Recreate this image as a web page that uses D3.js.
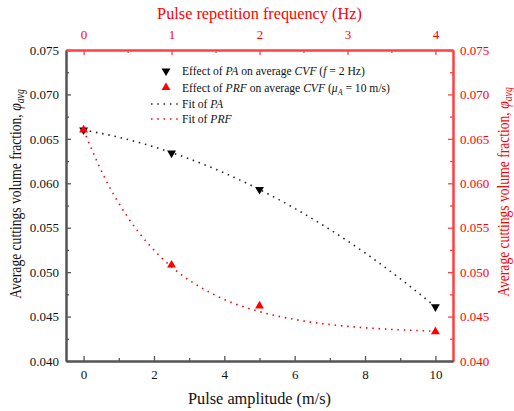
<!DOCTYPE html>
<html><head><meta charset="utf-8">
<script src="https://cdn.jsdelivr.net/npm/d3@7"></script>
<style>body{margin:0;background:#fff}svg{display:block}text{font-family:"Liberation Serif","Times New Roman",serif}</style>
</head><body><svg id="c" width="514" height="411"></svg>
<script>
// ---- data ----
const paValues = [0, 2.5, 5, 10];                 // pulse amplitude (m/s)
const paCVF = [0.0660, 0.0634, 0.0593, 0.0461];  // effect of PA
const prfValues = [0, 1, 2, 4];                   // pulse repetition frequency (Hz)
const prfCVF = [0.0660, 0.0508, 0.0462, 0.0433]; // effect of PRF
// fitted curves, sampled as read from the figure
const paFitX = [0, 1, 2, 3, 4, 5, 6, 7, 8, 9, 10];
const paFitY = [0.0660, 0.06518, 0.06410, 0.06276, 0.06116, 0.05930, 0.05718, 0.05480, 0.05216, 0.04926, 0.04610];
const prfFitX = [0, 0.25, 0.5, 0.75, 1, 1.5, 2, 2.5, 3, 3.5, 4];
const prfFitY = [0.0660, 0.06043, 0.05621, 0.05302, 0.0506, 0.04739, 0.04556, 0.04451, 0.0439, 0.04356, 0.04336];
const bottomTicks = [0, 2, 4, 6, 8, 10];
const topTicks = [0, 1, 2, 3, 4];
const yTicks = [0.040, 0.045, 0.050, 0.055, 0.060, 0.065, 0.070, 0.075];

const RED = "#ff0000", RAX = "#ff4040", GRAY = "#555";
const FONT = '"Liberation Serif","Times New Roman",serif';
const L = 66, R = 453, T = 50, B = 361;
const svg = d3.select("#c");
const x = d3.scaleLinear().domain([-0.5, 10.5]).range([L, R]);
const xt = d3.scaleLinear().domain([-0.2, 4.2]).range([L, R]);
const y = d3.scaleLinear().domain([0.040, 0.075]).range([B, T]);

function styleAxis(g, col, fs) {
  g.attr("font-family", FONT);
  g.select(".domain").attr("stroke", col).attr("stroke-width", 2);
  g.selectAll(".tick line").attr("stroke", col).attr("stroke-width", 1.3);
  g.selectAll(".tick text").attr("fill", col).style("font-size", fs + "px").style("font-family", FONT);
}
const minorY = d3.range(0.0425, 0.075, 0.005);
// left
let g = svg.append("g").attr("transform", `translate(${L},0)`)
  .call(d3.axisLeft(y).tickValues(minorY).tickFormat("").tickSize(-3).tickSizeOuter(0));
styleAxis(g, GRAY, 13);
g = svg.append("g").attr("transform", `translate(${L},0)`)
  .call(d3.axisLeft(y).tickValues(yTicks).tickFormat(d3.format(".3f")).tickSize(-5).tickSizeOuter(0).tickPadding(7));
styleAxis(g, GRAY, 13); g.selectAll(".tick text").attr("fill", "#111");
// right
g = svg.append("g").attr("transform", `translate(${R},0)`)
  .call(d3.axisRight(y).tickValues(minorY).tickFormat("").tickSize(-3).tickSizeOuter(0));
styleAxis(g, RAX, 13);
g = svg.append("g").attr("transform", `translate(${R},0)`)
  .call(d3.axisRight(y).tickValues(yTicks).tickFormat(d3.format(".3f")).tickSize(-5).tickSizeOuter(0).tickPadding(7));
styleAxis(g, RAX, 13); g.selectAll(".tick text").attr("fill", RED);
// bottom
g = svg.append("g").attr("transform", `translate(0,${B})`)
  .call(d3.axisBottom(x).tickValues([1, 3, 5, 7, 9]).tickFormat("").tickSize(-3).tickSizeOuter(0));
styleAxis(g, GRAY, 13);
g = svg.append("g").attr("transform", `translate(0,${B})`)
  .call(d3.axisBottom(x).tickValues(bottomTicks).tickFormat(d3.format("d")).tickSize(-5).tickSizeOuter(0).tickPadding(9));
styleAxis(g, GRAY, 13); g.selectAll(".tick text").attr("fill", "#111");
// top
g = svg.append("g").attr("transform", `translate(0,${T})`)
  .call(d3.axisTop(xt).tickValues([0.5, 1.5, 2.5, 3.5]).tickFormat("").tickSize(-3).tickSizeOuter(0));
styleAxis(g, RAX, 13);
g = svg.append("g").attr("transform", `translate(0,${T})`)
  .call(d3.axisTop(xt).tickValues(topTicks).tickFormat(d3.format("d")).tickSize(-5).tickSizeOuter(0).tickPadding(11));
styleAxis(g, RAX, 13); g.selectAll(".tick text").attr("fill", RED);

// titles
svg.append("text").attr("x", 259.5).attr("y", 19).attr("text-anchor", "middle")
  .attr("fill", RED).style("font-size", "16.3px").text("Pulse repetition frequency (Hz)");
svg.append("text").attr("x", 259.5).attr("y", 404).attr("text-anchor", "middle")
  .attr("fill", "#111").style("font-size", "16.3px").text("Pulse amplitude (m/s)");
function yTitle(xc, yc, col) {
  const t = svg.append("text").attr("transform", `translate(${xc},${yc}) rotate(-90) scale(0.85,1)`)
    .attr("text-anchor", "middle").attr("fill", col).style("font-size", "16px");
  t.append("tspan").text("Average cuttings volume fraction, ");
  t.append("tspan").attr("font-style", "italic").text("φ");
  t.append("tspan").attr("font-style", "italic").attr("dy", 3).style("font-size", "11.5px").text("avg");
}
yTitle(21, 194, "#111");
yTitle(509, 192, RED);

// fits
const line = d3.line().curve(d3.curveMonotoneX);
svg.append("path").attr("d", line(paFitX.map((v, i) => [x(v), y(paFitY[i])])))
  .attr("fill", "none").attr("stroke", "#222").attr("stroke-width", 1.6).attr("stroke-dasharray", "1.5,4.8");
svg.append("path").attr("d", line(prfFitX.map((v, i) => [xt(v), y(prfFitY[i])])))
  .attr("fill", "none").attr("stroke", RED).attr("stroke-width", 1.6).attr("stroke-dasharray", "1.5,4.8");

// markers
const tri = d3.symbol().type(d3.symbolTriangle).size(34);
svg.selectAll(".pa").data(paValues).enter().append("path")
  .attr("d", tri).attr("fill", "#000")
  .attr("transform", (d, i) => `translate(${x(d)},${y(paCVF[i])}) rotate(180)`);
svg.selectAll(".prf").data(prfValues).enter().append("path")
  .attr("d", tri).attr("fill", RED)
  .attr("transform", (d, i) => `translate(${xt(d)},${y(prfCVF[i])})`);

// legend
const lg = svg.append("g").style("font-size", "11.6px");
function legText(yy, parts) {
  const t = lg.append("text").attr("x", 182).attr("y", yy + 4).attr("fill", "#111");
  parts.forEach(p => {
    const s = t.append("tspan").text(p[0]);
    if (p[1] === "i") s.attr("font-style", "italic");
    if (p[1] === "sub") s.attr("font-style", "italic").attr("dy", 3).style("font-size", "8px");
    if (p[1] === "up") s.attr("dy", -3);
  });
}
lg.append("path").attr("d", tri).attr("fill", "#000").attr("transform", "translate(166,71) rotate(180)");
legText(71, [["Effect of "], ["PA", "i"], [" on average "], ["CVF", "i"], [" ("], ["f", "i"], [" = 2 Hz)"]]);
lg.append("path").attr("d", tri).attr("fill", RED).attr("transform", "translate(166,87.5)");
legText(87.5, [["Effect of "], ["PRF", "i"], [" on average "], ["CVF", "i"], [" ("], ["μ", "i"], ["A", "sub"], [" = 10 m/s)", "up"]]);
lg.append("line").attr("x1", 151).attr("x2", 180).attr("y1", 104).attr("y2", 104)
  .attr("stroke", "#222").attr("stroke-width", 1.6).attr("stroke-dasharray", "1.5,4.8");
legText(104, [["Fit of "], ["PA", "i"]]);
lg.append("line").attr("x1", 151).attr("x2", 180).attr("y1", 119).attr("y2", 119)
  .attr("stroke", RED).attr("stroke-width", 1.6).attr("stroke-dasharray", "1.5,4.8");
legText(119, [["Fit of "], ["PRF", "i"]]);
</script></body></html>
